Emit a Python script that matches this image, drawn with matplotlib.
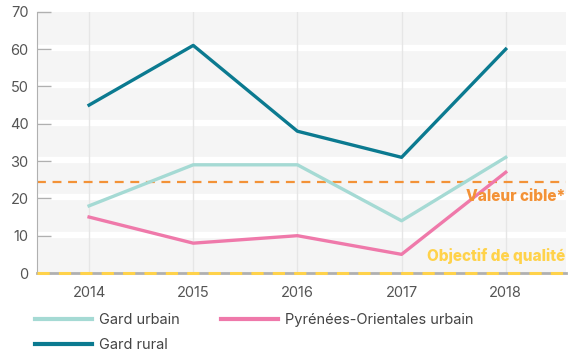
import matplotlib.pyplot as plt
from matplotlib.lines import Line2D

years = [2014, 2015, 2016, 2017, 2018]
gard_urbain = [18, 29, 29, 14, 31]
po_urbain = [15, 8, 10, 5, 27]
gard_rural = [45, 61, 38, 31, 60]
valeur_cible = 24.5
objectif_qualite = 0

plt.rcParams['font.family'] = ['Inter', 'DejaVu Sans']

fig = plt.figure(figsize=(5.69, 3.52), dpi=100)
ax = fig.add_axes([0.065, 0.2244, 0.93, 0.742])
ax.set_facecolor('#f5f5f5')

# thick white bands across the grey background at each tick
for y in range(10, 70, 10):
    ax.axhline(y + 0.3, color='white', lw=4.5, zorder=0)
for x in years:
    ax.axvline(x, color='#e6e6e6', lw=1, zorder=0.5)

ax.axhline(valeur_cible, color='#f39237', lw=1.6, ls=(0, (4, 3)), zorder=2)
ax.axhline(objectif_qualite, color='#ffd24a', lw=2.2, ls=(0, (4, 3)), zorder=5, clip_on=False)

ax.plot(years, gard_urbain, color='#a5dad4', lw=2.4, zorder=3)
ax.plot(years, po_urbain, color='#ef79aa', lw=2.4, zorder=3)
ax.plot(years, gard_rural, color='#0b7a90', lw=2.4, zorder=3)

ax.text(2018.57, 20.6, 'Valeur cible*', color='#f39237', fontweight='heavy', fontsize=11,
        ha='right', va='center', zorder=4)
ax.text(2018.57, 4.6, 'Objectif de qualité', color='#ffd24a', fontweight='heavy', fontsize=11,
        ha='right', va='center', zorder=4)

ax.set_xlim(2013.5, 2018.58)
ax.set_ylim(0, 70)
ax.set_xticks(years)
ax.set_yticks(range(0, 71, 10))
ax.tick_params(axis='y', direction='in', length=10, width=1, color='#b0b0b0',
               labelsize=10.5, labelcolor='#555555', pad=6)
ax.tick_params(axis='x', length=0, labelsize=10.5, labelcolor='#555555', pad=9)

for s in ['top', 'right']:
    ax.spines[s].set_visible(False)
ax.spines['left'].set_color('#b0b0b0')
ax.spines['bottom'].set_color('#b0b0b0')
ax.spines['bottom'].set_linewidth(2)

handles = [
    Line2D([], [], color='#a5dad4', lw=3),
    Line2D([], [], color='#0b7a90', lw=3),
    Line2D([], [], color='#ef79aa', lw=3),
]
labels = ['Gard urbain', 'Gard rural', 'Pyrénées-Orientales urbain']
fig.legend(handles, labels, ncol=2, loc='upper left', bbox_to_anchor=(0.056, 42 / 352),
           frameon=False, fontsize=10.5, handlelength=3.9, handletextpad=0.5,
           columnspacing=2.85, labelspacing=0.78, labelcolor='#444444',
           borderpad=0.2, borderaxespad=0)

fig.savefig('out.png', dpi=100)
